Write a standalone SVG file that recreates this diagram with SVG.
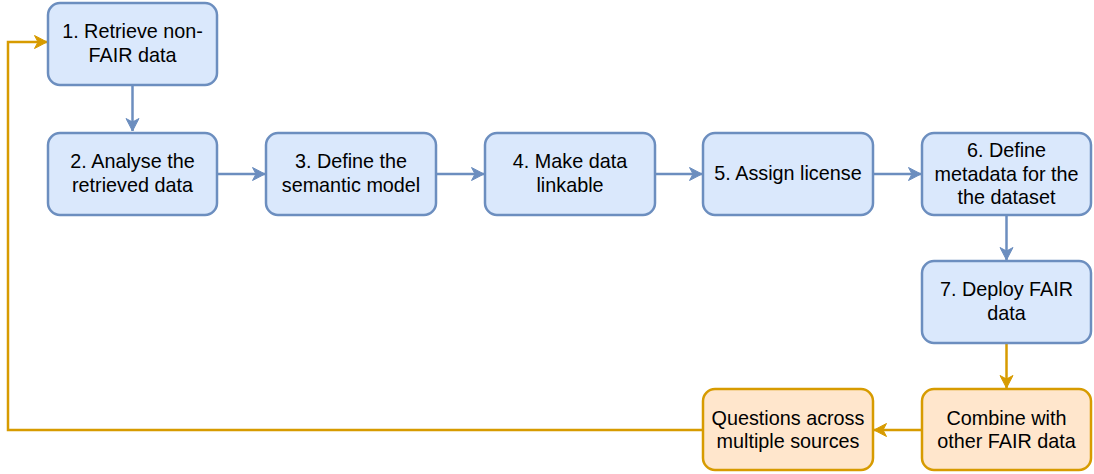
<svg xmlns="http://www.w3.org/2000/svg" width="1094" height="474" viewBox="0 0 1094 474">
<style>
.b{fill:#dae8fc;stroke:#6c8ebf;stroke-width:2.5}
.o{fill:#ffe6cc;stroke:#d79b00;stroke-width:2.5}
text{font-family:"Liberation Sans",Arial,Helvetica,sans-serif;font-size:19.8px;fill:#000;text-anchor:middle}
.cb{fill:none;stroke:#6c8ebf;stroke-width:2.5}
.co{fill:none;stroke:#d79b00;stroke-width:2.5}
</style>
<defs>
<marker id="ab" markerUnits="userSpaceOnUse" markerWidth="16" markerHeight="16" refX="13" refY="7" orient="auto" viewBox="0 0 16 14">
<path d="M0.5,0.5 L13,7 L0.5,13.5 L4,7 Z" fill="#6c8ebf" stroke="#6c8ebf" stroke-width="1"/>
</marker>
<marker id="ao" markerUnits="userSpaceOnUse" markerWidth="16" markerHeight="16" refX="13" refY="7" orient="auto" viewBox="0 0 16 14">
<path d="M0.5,0.5 L13,7 L0.5,13.5 L4,7 Z" fill="#d79b00" stroke="#d79b00" stroke-width="1"/>
</marker>
</defs>
<g id="connectors">
<path class="cb" d="M132.5,85 L132.5,131" marker-end="url(#ab)"/>
<path class="cb" d="M217,174 L265,174" marker-end="url(#ab)"/>
<path class="cb" d="M436,174 L484,174" marker-end="url(#ab)"/>
<path class="cb" d="M655,174 L702,174" marker-end="url(#ab)"/>
<path class="cb" d="M873,174 L921,174" marker-end="url(#ab)"/>
<path class="cb" d="M1006.5,215 L1006.5,260" marker-end="url(#ab)"/>
<path class="co" d="M1006.5,343 L1006.5,388" marker-end="url(#ao)"/>
<path class="co" d="M922,430 L874,430" marker-end="url(#ao)"/>
<path class="co" d="M703,430 L8,430 L8,42 L47,42" marker-end="url(#ao)"/>
</g>
<g id="n1"><rect class="b" x="48" y="3" width="169" height="82" rx="12"/><text x="132.5" y="38">1. Retrieve non-</text><text x="132.5" y="62">FAIR data</text></g>
<g id="n2"><rect class="b" x="48" y="133" width="169" height="82" rx="12"/><text x="132.5" y="168">2. Analyse the</text><text x="132.5" y="192">retrieved data</text></g>
<g id="n3"><rect class="b" x="266" y="133" width="170" height="82" rx="12"/><text x="351" y="168">3. Define the</text><text x="351" y="192">semantic model</text></g>
<g id="n4"><rect class="b" x="485" y="133" width="170" height="82" rx="12"/><text x="570" y="168">4. Make data</text><text x="570" y="192">linkable</text></g>
<g id="n5"><rect class="b" x="703" y="133" width="170" height="82" rx="12"/><text x="788" y="180">5. Assign license</text></g>
<g id="n6"><rect class="b" x="922" y="133" width="169" height="82" rx="12"/><text x="1006.5" y="157">6. Define</text><text x="1006.5" y="181">metadata for the</text><text x="1006.5" y="204">the dataset</text></g>
<g id="n7"><rect class="b" x="922" y="261" width="169" height="82" rx="12"/><text x="1006.5" y="296">7. Deploy FAIR</text><text x="1006.5" y="320">data</text></g>
<g id="n8"><rect class="o" x="922" y="389" width="169" height="81" rx="12"/><text x="1006.5" y="425">Combine with</text><text x="1006.5" y="448">other FAIR data</text></g>
<g id="n9"><rect class="o" x="703" y="389" width="170" height="81" rx="12"/><text x="788" y="425">Questions across</text><text x="788" y="448">multiple sources</text></g>
</svg>
